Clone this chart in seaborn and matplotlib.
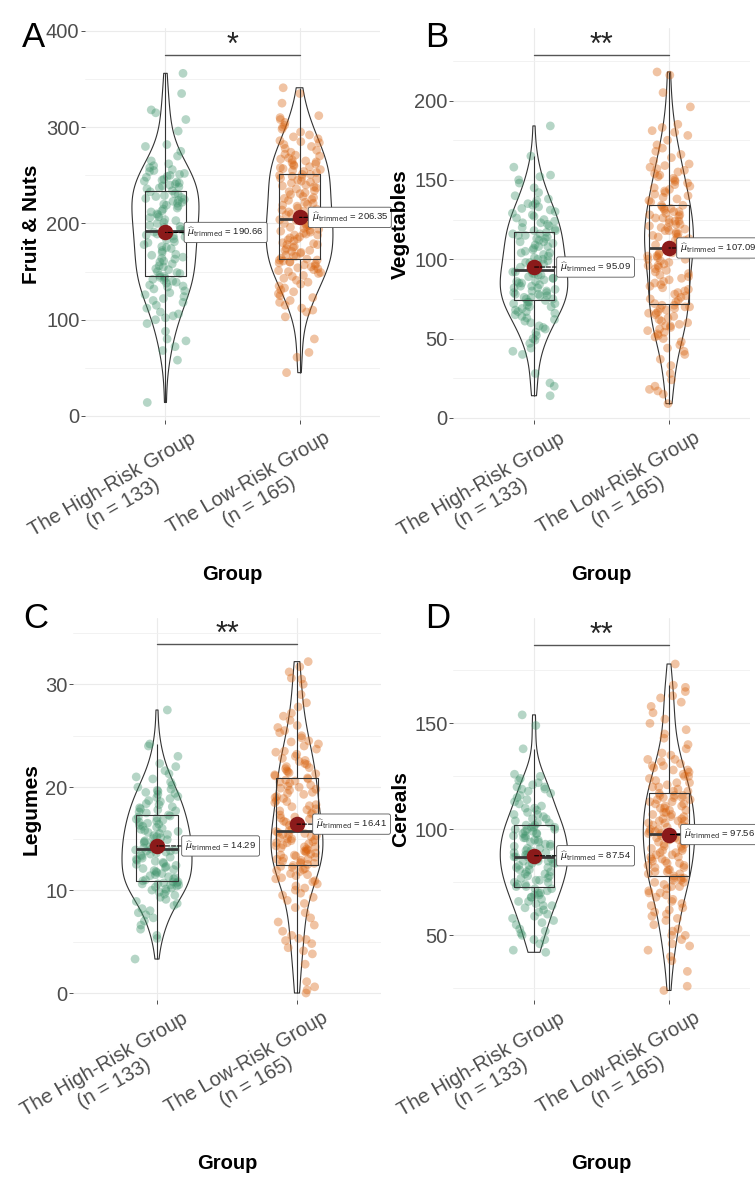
import numpy as np
import pandas as pd
import seaborn as sns
import matplotlib.pyplot as plt
from matplotlib.ticker import MultipleLocator
import matplotlib.transforms as mtransforms

sns.set_theme(style="white")
plt.rcParams['font.family'] = ['Liberation Sans', 'DejaVu Sans']
plt.rcParams['mathtext.fontset'] = 'dejavusans'

groups = ["The High-Risk Group\n(n = 133)", "The Low-Risk Group\n(n = 165)"]
palette = ["#3E936A", "#D8620E"]

# values (approximate)
fruit_high = [14, 58, 68, 72, 78, 80, 88, 96, 100, 102, 104, 106, 108, 112, 115, 118, 120, 122, 124, 126,
              128, 130, 132, 134, 135, 136, 138, 139, 140, 141, 142, 143, 144,
              145, 146, 148, 149, 150, 152, 153, 155, 156, 158, 160, 161, 163, 164, 165, 167, 168, 170, 172,
              174, 175, 176, 178, 180, 181, 183, 184, 186, 187, 188, 189, 190, 191, 192,
              193, 194, 196, 197, 198, 200, 201, 203, 204, 206, 207, 209, 210, 212, 213, 215, 216, 218, 219,
              220, 221, 222, 223, 224, 225, 226, 227, 228, 229, 230, 231, 233, 234,
              236, 237, 238, 239, 240, 241, 242, 243, 244, 245, 246, 248, 249, 250, 251, 252, 254, 255, 256,
              258, 260, 262, 265, 270, 275, 280, 282, 296, 308, 315, 318, 335, 356]
fruit_low = [45, 61, 66, 80, 103, 108, 110, 112, 115, 118, 120, 123, 125, 127, 129, 131, 133, 135, 137, 139,
             141, 143, 145, 146, 148, 149, 150, 151, 152, 153, 154, 155, 156, 157, 158, 159, 160, 160, 161, 162, 162,
             163, 164, 166, 166, 167, 169, 170, 171, 172, 172, 174, 175, 176, 178, 178, 179, 180, 182, 183, 184,
             185, 186, 188, 188, 189, 190, 191, 192, 193, 194, 195, 196, 197, 198, 199, 200, 201, 202, 203, 204, 204,
             205,
             206, 207, 208, 209, 210, 212, 213, 214, 215, 216, 218, 219, 220, 221, 222, 224, 225, 226, 227, 228,
             230, 231, 232, 233, 234, 236, 237, 238, 239, 240, 242, 243, 244, 245, 246, 247, 248, 249, 250, 251, 251,
             253, 254, 255, 256, 257, 258, 259, 260, 261, 262, 263, 264, 265, 266, 267, 268, 270, 271, 272, 274,
             276, 278, 280, 282, 284, 285, 286, 288, 290, 292, 295, 298, 300, 302, 305, 308, 310, 312, 325, 335, 341]

veg_high = [14, 20, 22, 28, 40, 42, 44, 47, 49, 50, 52, 54, 56, 57, 58, 60, 61, 62, 63, 64, 65, 66, 67, 67,
            68, 69, 70, 70, 71, 72, 72, 73, 73,
            74, 75, 75, 76, 76, 77, 77, 78, 78, 79, 79, 80, 80, 81, 82, 82, 83, 83, 84, 85, 85, 86, 86, 87, 88,
            88, 89, 90, 90, 91, 91, 92, 92, 93,
            94, 95, 95, 96, 97, 98, 98, 99, 100, 100, 101, 102, 103, 104, 104, 105, 106, 107, 108, 108, 109,
            110, 111, 111, 112, 113, 113, 114, 115, 115, 116, 116, 117,
            118, 118, 119, 120, 121, 122, 123, 123, 124, 125, 126, 127, 128, 129, 130, 131, 132, 133, 134, 135,
            135, 137, 138, 140, 142, 145, 148, 150, 152, 153, 158, 165, 184]
veg_low = [9, 15, 17, 18, 20, 24, 28, 33, 37, 40, 42, 44, 46, 48, 50, 51, 52, 53, 54, 55, 56, 57, 58, 58, 59,
           60, 61, 62, 63, 64, 65, 66, 66, 67, 68, 69, 69, 70, 70, 71, 71,
           72, 73, 74, 75, 76, 77, 78, 79, 80, 81, 82, 83, 84, 85, 86, 87, 88, 89, 90, 91, 92, 93, 94, 95, 96,
           96, 97, 98, 99, 100, 100, 101, 102, 102, 103, 104, 104, 105, 105, 106, 106,
           107,
           108, 108, 109, 110, 110, 111, 112, 112, 113, 114, 114, 115, 116, 116, 117, 118, 118, 119, 120, 120,
           121, 122, 122, 123, 124, 124, 125, 126, 126, 127, 128, 128, 129, 130, 130, 131, 132, 132, 133, 134, 134,
           136, 137, 138, 139, 140, 141, 142, 143, 144, 145, 146, 147, 148, 149, 150, 151, 152, 153, 154, 155,
           156, 157, 158, 159, 160, 162, 164, 166, 168, 170, 172, 175, 178, 180, 181, 183, 185, 196, 205, 216, 218]

leg_high = [3.3, 5.3, 5.6, 6.2, 6.6, 7.0, 7.3, 7.6, 7.8, 8.0, 8.2, 8.5, 8.7, 8.9, 9.1, 9.3, 9.5, 9.6, 9.8, 9.9,
            10.0, 10.1, 10.2, 10.3, 10.4, 10.5, 10.5, 10.6, 10.6, 10.7, 10.7, 10.8, 10.8,
            10.9, 11.0, 11.1, 11.2, 11.3, 11.4, 11.5, 11.6, 11.7, 11.8, 11.9, 12.0, 12.1, 12.2, 12.3, 12.4,
            12.5, 12.6, 12.7, 12.8, 12.9, 13.0, 13.1, 13.2, 13.3, 13.4, 13.5, 13.6, 13.7, 13.8, 13.8, 13.9, 13.9,
            14.0,
            14.1, 14.2, 14.3, 14.4, 14.5, 14.6, 14.7, 14.8, 14.9, 15.0, 15.1, 15.2, 15.3, 15.4, 15.5, 15.6,
            15.7, 15.8, 15.9, 16.0, 16.1, 16.2, 16.3, 16.4, 16.5, 16.6, 16.7, 16.8, 16.9, 17.0, 17.1, 17.2, 17.3,
            17.5, 17.6, 17.7, 17.8, 17.9, 18.0, 18.1, 18.3, 18.4, 18.6, 18.7, 18.9, 19.0, 19.1, 19.3, 19.4,
            19.5, 19.6, 19.7, 19.8, 20.0, 20.2, 20.5, 20.8, 21.0, 21.3, 21.6, 22.0, 22.3, 23.0, 24.0, 24.2, 27.5]
leg_low = [0.0, 0.3, 0.6, 1.1, 2.8, 3.8, 4.1, 4.4, 4.8, 5.1, 5.2, 5.3, 5.6, 6.0, 6.6, 6.9, 7.3, 7.8, 8.3, 8.7,
           9.0, 9.3, 9.5, 9.7, 10.0, 10.2, 10.4, 10.6, 10.8, 10.9, 11.1, 11.2, 11.4, 11.5, 11.6, 11.8, 11.9,
           12.0, 12.1, 12.2, 12.3,
           12.4, 12.5, 12.6, 12.6, 12.7, 12.8, 12.9, 13.0, 13.0, 13.1, 13.2, 13.3, 13.4, 13.4, 13.5, 13.6,
           13.7, 13.8, 13.8, 13.9, 14.0, 14.1, 14.2, 14.2, 14.3, 14.4, 14.5, 14.6, 14.6, 14.7, 14.8, 14.9,
           15.0, 15.0, 15.1, 15.2, 15.3, 15.4, 15.4, 15.5, 15.6,
           15.7,
           15.8, 15.9, 16.0, 16.2, 16.3, 16.5, 16.6, 16.7, 16.9, 17.0, 17.1, 17.3, 17.4, 17.5, 17.7, 17.8,
           17.9, 18.1, 18.2, 18.3, 18.5, 18.6, 18.7, 18.9, 19.0, 19.1, 19.3, 19.4, 19.5, 19.7, 19.8, 19.9,
           20.0, 20.1, 20.2, 20.4, 20.5, 20.6, 20.7, 20.8, 20.9,
           21.1, 21.2, 21.3, 21.4, 21.5, 21.6, 21.8, 21.9, 22.0, 22.2, 22.3, 22.5, 22.6, 22.8, 23.0, 23.2,
           23.4, 23.5, 23.7, 24.0, 24.2, 24.4, 24.5, 24.8, 25.0, 25.3, 25.5, 25.8, 26.0, 26.5, 26.9, 27.2,
           27.8, 28.2, 29.0, 30.0, 30.5, 30.6, 31.2, 31.7, 32.2]

cer_high = [42, 43, 46, 48, 48, 50, 51, 52, 53, 55, 56, 57, 58, 59, 60, 61, 62, 63, 64, 64, 65, 66, 66, 67,
            68, 68, 69, 69, 70, 70, 71, 72, 72,
            73, 73, 74, 74, 75, 75, 76, 76, 77, 77, 78, 78, 79, 79, 80, 80, 81, 81, 82, 82, 83, 83, 84, 84, 84,
            85, 85, 85, 86, 86, 86, 87, 87, 87,
            88, 88, 89, 89, 90, 90, 91, 91, 92, 92, 93, 93, 94, 94, 95, 95, 96, 96, 97, 97, 98, 98, 98, 99, 99,
            100, 100, 100, 101, 101, 101, 102, 102,
            103, 103, 104, 105, 105, 106, 107, 107, 108, 109, 110, 110, 111, 112, 113, 114, 115, 116, 117, 118,
            119, 119, 120, 120, 121, 122, 123, 124, 125, 126, 138, 149, 154]
cer_low = [24, 26, 33, 38, 40, 43, 45, 46, 48, 50, 50, 52, 53, 55, 57, 58, 59, 60, 61, 62, 63, 64, 65, 66, 67,
           68, 69, 70, 70, 71, 72, 73, 73, 74, 75, 75, 76, 76, 77, 77, 77,
           78, 79, 79, 80, 80, 81, 81, 82, 82, 83, 83, 84, 84, 85, 85, 86, 86, 87, 87, 88, 88, 89, 89, 90, 90,
           91, 91, 92, 92, 93, 93, 94, 94, 95, 95, 96, 96, 97, 97, 97, 98,
           98,
           98, 99, 99, 100, 100, 101, 101, 102, 102, 103, 103, 104, 104, 104, 105, 105, 106, 106, 107, 107,
           108, 108, 109, 109, 110, 110, 111, 111, 112, 112, 113, 113, 114, 114, 115, 115, 115, 116, 116, 116, 117,
           118, 118, 119, 120, 120, 121, 122, 122, 123, 124, 125, 125, 126, 127, 128, 128, 129, 130, 130, 131,
           132, 133, 133, 135, 136, 138, 140, 143, 145, 147, 150, 152, 155, 158, 160, 162, 163, 165, 167, 168, 178]

panel_names = ["Fruit & Nuts", "Vegetables", "Legumes", "Cereals"]
trimmed_high = [190.66, 95.09, 14.29, 87.54]
trimmed_low = [206.35, 107.09, 16.41, 97.56]
stars = ["*", "**", "**", "**"]
bar_values = [375, 228.7, 33.9, 186.9]
letters = ["A", "B", "C", "D"]

fig = plt.figure(figsize=(7.55, 11.8), dpi=100)
W, H = 755, 1180

# panel layout in pixels: left, top, right, bottom
rects = [(85, 28, 380, 420), (453, 28, 750, 420), (73, 618, 381, 1000), (453, 618, 750, 1000)]
ylims = [(-4.2, 403.1), (-1.3, 245.7), (-0.68, 36.44), (19.5, 199.7)]
majors = [100, 50, 10, 50]
ylab_x = [-0.15, -0.145, -0.105, -0.145]
letter_pos = [(22, 47), (425, 47), (23, 628), (425, 628)]
# gap (px) between the mean dot and its label, as placed in the reference
label_gap = [(18, 8), (22, 7), (24, 15), (22, 11)]
xlab_top = [565, 565, 1154, 1154]

data = [(fruit_high, fruit_low), (veg_high, veg_low), (leg_high, leg_low), (cer_high, cer_low)]

for i in range(4):
    l, t, r, b = rects[i]
    ax = fig.add_axes([l / W, 1 - b / H, (r - l) / W, (b - t) / H])
    high, low = data[i]
    df = pd.DataFrame({"Group": [groups[0]] * len(high) + [groups[1]] * len(low),
                       "value": high + low})
    np.random.seed(7 + i)
    sns.stripplot(data=df, x="Group", y="value", hue="Group", palette=palette, jitter=0.16,
                  size=6.3, alpha=0.38, linewidth=0, legend=False, ax=ax, zorder=2)
    sns.boxplot(data=df, x="Group", y="value", width=0.3, fill=False, color="#333333",
                linewidth=0.8, showfliers=False, showcaps=False,
                medianprops=dict(linewidth=2, color="#3a3a3a"), ax=ax)
    sns.violinplot(data=df, x="Group", y="value", cut=0, inner=None, fill=False, color="#333333",
                   linewidth=0.8, width=0.5, density_norm="area", bw_method="silverman", ax=ax)

    px = (r - l) / 2.2  # pixels per category unit
    for j, tm in enumerate([trimmed_high[i], trimmed_low[i]]):
        ax.scatter([j], [tm], s=125, color="#8B1A1A", zorder=6, linewidth=0)
        ann = ax.annotate(r"$\widehat{\mu}_{\mathrm{trimmed}}$ = " + f"{tm:.2f}", xy=(j, tm),
                          xytext=(j + (label_gap[i][j] + 4) / px, tm), ha="left", va="center",
                          fontsize=6.8, color="#222222",
                          bbox=dict(boxstyle="round,pad=0.35,rounding_size=0.2", fc="white",
                                    ec="#555555", lw=0.6),
                          arrowprops=dict(arrowstyle="-", ls="--", color="black", lw=0.8,
                                          shrinkA=0, shrinkB=0),
                          zorder=7)
        ann.set_clip_on(False)

    ax.plot([0, 1], [bar_values[i], bar_values[i]], color="#555555", lw=1, zorder=4)
    ax.annotate(stars[i], xy=(0.5, bar_values[i]), xytext=(0, -4), textcoords="offset points",
                ha="center", va="bottom", fontsize=22)

    ax.set_xlim(-0.6, 1.6)
    ax.set_ylim(*ylims[i])
    ax.yaxis.set_major_locator(MultipleLocator(majors[i]))
    ax.yaxis.set_minor_locator(MultipleLocator(majors[i] / 2))
    ax.grid(which="major", color="#EBEBEB", lw=0.8)
    ax.grid(which="minor", axis="y", color="#F0F0F0", lw=0.6)
    ax.set_axisbelow(True)
    for s in ax.spines.values():
        s.set_visible(False)
    ax.tick_params(axis="both", which="major", length=3, width=0.6, color="#333333",
                   labelcolor="#4D4D4D", labelsize=14.5, pad=1, left=True, bottom=True)
    ax.tick_params(which="minor", length=0)

    ax.set_xticks([0, 1])
    ax.set_xticklabels(groups, rotation=30, ha="right", rotation_mode="anchor",
                       multialignment="center")
    offset = mtransforms.ScaledTranslation(24 / 100, -3 / 100, fig.dpi_scale_trans)
    for lab in ax.get_xticklabels():
        lab.set_transform(lab.get_transform() + offset)

    ax.set_xlabel("Group", fontsize=14.5, fontweight="bold", color="black")
    ax.set_ylabel(panel_names[i], fontsize=15, fontweight="bold", color="black")
    ax.xaxis.set_label_coords(0.5, -(xlab_top[i] - b) / (b - t))
    ax.xaxis.label.set_va("top")
    ax.yaxis.set_label_coords(ylab_x[i], 0.5)

    lx, ly = letter_pos[i]
    fig.text(lx / W, 1 - ly / H, letters[i], fontsize=25, va="baseline", ha="left", color="black")

fig.savefig("out.png", dpi=100)
